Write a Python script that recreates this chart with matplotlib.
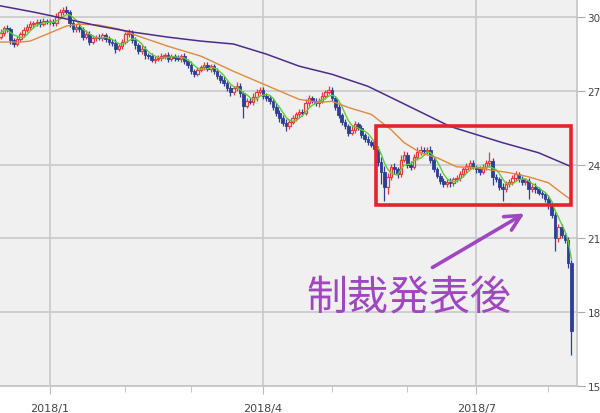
import pandas as pd
import numpy as np
import matplotlib
matplotlib.use('Agg')
import matplotlib.pyplot as plt
import matplotlib.patches as patches

# 日足終値 (2017/12/11 - 2018/8/10)
closes = [29.35, 29.55, 29.5, 29.05, 28.9,
          29.1, 29.3, 29.45, 29.6, 29.7,
          29.75, 29.8, 29.7, 29.85, 29.8,
          29.8, 29.75, 30.0, 30.2, 30.3,
          30.2, 29.75, 29.5, 29.6, 29.5,
          29.2, 29.3, 29.0, 29.15, 29.2,
          29.15, 29.25, 29.1, 29.0, 28.95,
          28.7, 28.8, 29.0, 29.3, 29.35,
          29.05, 28.85, 28.6, 28.7, 28.45,
          28.4, 28.25, 28.3, 28.35, 28.4,
          28.45, 28.3, 28.4, 28.35, 28.3,
          28.4, 28.2, 28.05, 27.8, 27.7,
          27.85, 27.95, 28.05, 27.9, 28.0,
          27.8, 27.6, 27.45, 27.3, 27.1,
          26.95, 27.1, 27.2, 26.9, 26.4,
          26.6, 26.55, 26.75, 26.95, 27.05,
          26.8, 26.7, 26.6, 26.35, 26.1,
          25.9, 25.7, 25.55, 25.75, 25.9,
          26.05, 26.15, 26.1, 26.5, 26.7,
          26.6, 26.5, 26.6, 26.8, 26.95,
          27.05, 26.7, 26.35, 26.0, 25.75,
          25.55, 25.3, 25.4, 25.65, 25.5,
          25.2, 25.05, 24.9, 24.8, 24.65,
          24.1, 23.7, 23.1, 23.5, 23.9,
          23.8, 23.6, 24.2, 24.4, 24.0,
          23.9, 24.3, 24.5, 24.6, 24.55,
          24.6, 24.2, 23.8, 23.55, 23.35,
          23.2, 23.3, 23.25, 23.4, 23.45,
          23.6, 23.8, 23.95, 24.05, 23.9,
          23.8, 23.7, 23.9, 24.05, 24.15,
          23.5, 23.4, 23.1, 23.0, 23.2,
          23.3, 23.45, 23.6, 23.4, 23.3,
          23.35, 23.0, 23.1, 23.0, 22.85,
          22.8, 22.6, 22.35, 21.95, 21.0,
          21.45, 21.15, 20.95, 20.0, 17.25]
first_open = 29.2

# ヒゲの長さ
wick_hi = [.15, .1, .12, .08, .1, .12, .1, .15, .1, .12, .08, .1, .12, .1, .08, .1, .12, .15, .12, .1, .15, .1, .12, .1, .12,
           .1, .15, .12, .1, .08, .12, .1, .1, .12, .1, .15, .1, .12, .1, .15, .1, .12, .1, .15, .1, .08, .12, .1, .1, .12,
           .1, .12, .08, .1, .12, .1, .12, .1, .15, .1, .12, .1, .1, .12, .1, .1, .12, .1, .15, .1, .12, .1, .15, .12, .1,
           .12, .1, .15, .12, .1, .12, .1, .12, .1, .15, .12, .1, .15, .1, .12, .1, .12, .1, .15, .12, .1, .12, .1, .15, .1,
           .15, .12, .1, .12, .1, .12, .1, .15, .12, .1, .12, .1, .12, .1, .15, .12, .2, .25, .15, .12, .15, .12, .2, .15, .12,
           .15, .12, .2, .15, .12, .12, .15, .1, .12, .1, .12, .1, .15, .1, .12, .15, .12, .1, .15, .12, .1, .15, .12, .15, .35,
           .1, .12, .1, .15, .12, .1, .12, .15, .1, .12, .1, .12, .1, .15, .1, .12, .1, .15, .1, .12, .15, .12, .1, .1, .12]
wick_lo = [.1, .12, .1, .15, .12, .1, .12, .1, .08, .12, .1, .12, .1, .08, .1, .12, .1, .12, .1, .12, .1, .15, .12, .1, .12,
           .15, .1, .12, .1, .12, .1, .12, .1, .15, .12, .15, .1, .12, .1, .12, .1, .15, .12, .1, .15, .12, .1, .12, .1, .12,
           .1, .12, .1, .15, .1, .12, .1, .12, .1, .15, .12, .1, .12, .1, .12, .1, .12, .15, .12, .1, .15, .12, .1, .15, .5,
           .12, .1, .12, .15, .1, .12, .1, .12, .15, .12, .15, .12, .2, .12, .1, .12, .1, .12, .1, .12, .1, .12, .15, .1, .12,
           .1, .12, .15, .12, .15, .12, .15, .1, .12, .1, .12, .15, .12, .1, .12, .15, .5, .6, .3, .12, .2, .15, .12, .1, .15,
           .12, .1, .12, .1, .15, .12, .15, .12, .1, .15, .12, .1, .15, .12, .1, .12, .1, .15, .12, .1, .15, .12, .1, .12, .15,
           .35, .12, .15, .5, .12, .1, .15, .12, .1, .15, .12, .4, .12, .15, .1, .15, .12, .15, .12, .5, .15, .12, .15, .2, 1.0]

# 25日線 (橙) と 75日線 (紫) の読み取り値
ma25_day = [0, 6, 9, 15, 20, 24, 30, 36, 42, 51, 61, 71, 81, 91, 97, 101, 106, 113,
            119, 123, 128, 133, 139, 145, 149, 155, 161, 167, 171, 174]
ma25_val = [28.98, 28.98, 29.02, 29.35, 29.63, 29.71, 29.67, 29.51, 29.22, 28.81, 28.41,
            27.79, 27.22, 26.65, 26.53, 26.57, 26.32, 26.04, 25.42, 24.89, 24.48, 24.28,
            23.91, 23.87, 23.79, 23.67, 23.50, 23.26, 22.85, 22.56]
ma75_day = [0, 10, 20, 30, 40, 51, 61, 71, 81, 91, 101, 112, 122, 137, 153, 164, 174]
ma75_val = [30.45, 30.20, 29.92, 29.63, 29.39, 29.18, 29.02, 28.90, 28.49, 28.00, 27.67,
            27.18, 26.53, 25.55, 24.89, 24.48, 23.91]

y_ticks = [15, 18, 21, 24, 27, 30]

dates = pd.bdate_range('2017-12-11', periods=len(closes))
close = pd.Series(closes, index=dates)
opens = close.shift(1)
opens.iloc[0] = first_open
highs = np.maximum(opens.values, close.values) + np.array(wick_hi)
lows = np.minimum(opens.values, close.values) - np.array(wick_lo)
ma5 = close.rolling(5, min_periods=1).mean()
pos = np.arange(len(close))

up_c = '#e43c3c'
dn_c = '#2f3f94'
bg = '#f0f0f0'
grid_c = '#c9c9c9'

fig = plt.figure(figsize=(6, 4.14), dpi=100)
ax = fig.add_axes([0, 27/414, 577/600, 387/414])
ax.set_facecolor(bg)

up = close.values >= opens.values
body_lo = np.minimum(opens.values, close.values)
body_h = np.maximum(np.abs(close.values - opens.values), 0.04)

ax.vlines(pos[up], lows[up], highs[up], color=up_c, lw=0.9, zorder=3)
ax.vlines(pos[~up], lows[~up], highs[~up], color=dn_c, lw=0.9, zorder=3)
ax.bar(pos[up], body_h[up], bottom=body_lo[up], width=0.75,
       facecolor=bg, edgecolor=up_c, lw=0.9, zorder=4)
ax.bar(pos[~up], body_h[~up], bottom=body_lo[~up], width=0.8,
       facecolor=dn_c, edgecolor=dn_c, lw=0.6, zorder=4)

ax.plot(pos, ma5.values, color='#5ccc3a', lw=1.0, zorder=5)
ax.plot(ma25_day, ma25_val, color='#de8a3e', lw=1.0, zorder=5)
ax.plot(ma75_day, ma75_val, color='#4b2c8c', lw=1.1, zorder=5)

# 月の目盛り
month_pos = [dates.searchsorted(pd.Timestamp(2018, m, 1)) for m in range(1, 9)]
major = [month_pos[0], month_pos[3], month_pos[6]]
ax.set_xticks(major)
ax.set_xticklabels(['2018/1', '2018/4', '2018/7'])
ax.set_xticks([p for p in month_pos if p not in major], minor=True)
ax.set_xlim(-0.2, 175.7)
ax.set_ylim(15, 30.73)
ax.set_yticks(y_ticks)
ax.yaxis.tick_right()
ax.grid(True, color=grid_c, lw=1.2, zorder=0)
ax.set_axisbelow(True)
ax.tick_params(axis='y', length=6, color='#aaaaaa', labelsize=7.5,
               labelcolor='#444444', pad=1.5)
ax.tick_params(axis='x', which='major', length=6, color='#bbbbbb',
               labelsize=8, labelcolor='#444444', pad=6)
ax.tick_params(axis='x', which='minor', length=4, color='#bbbbbb')
for s in ['left', 'top']:
    ax.spines[s].set_visible(False)
for s in ['right', 'bottom']:
    ax.spines[s].set_color('#c4c4c4')
    ax.spines[s].set_linewidth(1.2)

# 注釈
ax.add_patch(patches.Rectangle((114.4, 22.36), 59.4, 3.21, fill=False,
                               ec='#e3242b', lw=2.6, zorder=6))
ax.annotate('', xy=(160.4, 22.07), xytext=(130.9, 19.76),
            arrowprops=dict(arrowstyle='->', color='#a046c2', lw=2.6,
                            mutation_scale=28), zorder=7)
ax.text(124.5, 18.58, '制裁発表後', fontsize=29.5, color='#a046c2',
        ha='center', va='center', family=['Noto Sans CJK JP', 'DejaVu Sans'],
        zorder=7)

fig.savefig('out.png', dpi=100)
